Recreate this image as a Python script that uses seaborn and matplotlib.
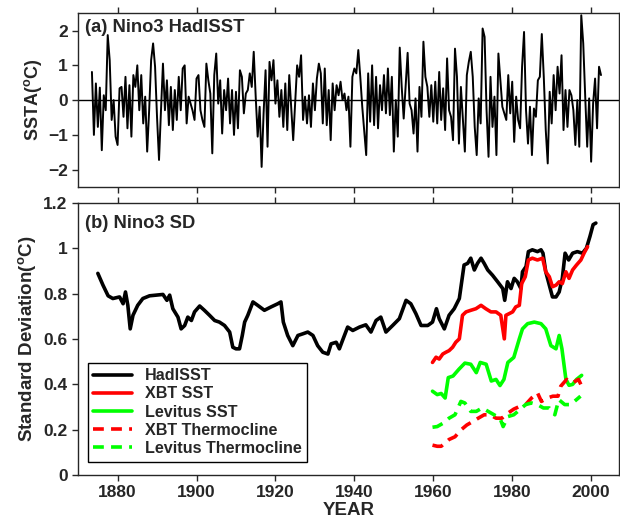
import numpy as np
import pandas as pd
import matplotlib
matplotlib.use("Agg")
import matplotlib.pyplot as plt
import seaborn as sns

# --- panel (a): Nino3 SSTA, half-yearly samples
ssta_start = 1873.5
ssta = [
    # 1873.5 - 1904.0
    0.81, -1.0, 0.48, -0.77, 0.36, -1.44, 0.14, -0.29, 1.87, 1.15, -0.57, 0.0, -1.05, -1.29,
    0.34, 0.38, -0.48, 0.67, -0.81, 0.43, -1.05, 0.72, 0.38, 1.0, -0.29, 0.72, -0.67, 0.1,
    -1.48, -0.29, 1.15, 1.63, 0.96, -0.5, -1.72, -0.29, 1.05, -0.29, 0.57, -0.72, 0.38, -0.86,
    0.29, -0.57, 0.67, -0.29, 0.91, 1.0, -0.67, 0.1, -0.1, -0.3, -0.57, 0.62, 0.72, -0.29,
    -0.57, -0.77, 1.05, 0.57, 0.19, -1.53,
    # 1904.5 - 1939.5
    0.72, 1.34, -0.1, 0.57, -0.96, 0.29, -0.29, 0.62, -0.67, 0.29, -1.0, 0.24, -0.81, 0.86,
    0.67, -0.38, 0.19, 0.29, 0.77, 0.38, 1.39, 0.1, -1.05, -0.19, -1.92, -0.38, 0.86, -1.34,
    1.1, 0.57, 1.15, -0.1, 0.57, -0.48, 0.29, -0.77, 0.48, -0.86, 0.72, -0.19, -1.15, -0.1,
    1.0, 0.67, 1.29, -0.57, 0.1, -0.67, 0.14, -0.77, 0.48, -0.29, 0.62, 1.05, 0.77, -0.67,
    0.91, -0.72, 0.29, -1.15, 0.48, -0.29, 0.43, 0.14, 0.53, 0.0, 0.19, -0.29, 0.1, -1.34, 0.67,
    # 1940.0 - 1972.5
    0.91, 0.77, 1.44, 0.67, -0.19, -0.9, -1.58, 0.77, -0.62, 1.0, -0.72, 0.67, -0.81, 0.43,
    -0.29, 0.72, -0.38, 0.91, -0.43, 0.67, -1.48, 0.0, -1.05, 1.51, 0.38, -0.53, 0.4, 1.36,
    -0.1, -0.29, -0.96, 0.05, -1.48, 0.38, -0.48, 1.68, 0.67, 0.38, -0.48, 0.43, -0.62, 0.53,
    -0.67, 0.81, -0.57, 0.34, -0.86, 1.2, -0.29, -0.48, -1.15, 1.48, 0.67, -1.25, 0.38, -0.57,
    -1.48, 0.72, 1.1, 1.39, 0.67, -0.77, -1.58, 0.05, -0.67, 2.06,
    # 1973.0 - 2002.5
    1.82, -0.29, -1.63, 0.67, -0.77, 0.1, -1.58, 1.34, 0.57, -0.19, -0.38, -0.57, 0.72, -0.38,
    0.53, -1.2, 0.1, -0.57, -0.81, 0.96, 1.96, -0.29, -1.25, -0.19, -1.58, -0.24, -0.48, 0.57,
    0.67, 1.9, 0.67, -0.86, -1.82, 0.24, -0.67, 0.72, -0.29, 0.96, 0.19, 1.29, -0.86, 0.29,
    -0.77, 0.29, 0.14, -0.29, -1.29, 0.0, -1.34, 2.44, 1.63, 0.1, -1.34, 0.05, -1.77, -0.1,
    0.62, -0.81, 0.96, 0.72,
]
ssta_years = ssta_start + 0.5 * np.arange(len(ssta))

# --- panel (b): running standard deviations
had_years = [1875.0, 1876.3, 1877.6, 1878.8, 1880.5, 1881.4, 1882.0, 1882.6, 1883.2, 1883.9,
             1885.1, 1886.4, 1888.1, 1889.8, 1891.5, 1892.5, 1893.2, 1894.0, 1895.3, 1896.1,
             1897.0, 1897.8, 1898.7, 1899.5, 1900.8, 1902.0, 1903.3, 1904.6, 1905.8, 1907.1,
             1908.4, 1909.2, 1910.0, 1910.9, 1911.6, 1912.2, 1913.0, 1914.3, 1915.5, 1917.2,
             1918.9, 1920.6, 1921.4, 1922.0, 1923.1, 1924.4, 1925.7, 1926.9, 1928.2, 1929.5,
             1930.7, 1932.0, 1933.3, 1934.1, 1935.4, 1936.2, 1937.0, 1938.3, 1939.6, 1941.3,
             1942.9, 1944.2, 1945.5, 1946.7, 1948.0, 1949.7, 1951.4, 1953.1, 1954.3, 1955.6,
             1956.9, 1958.6, 1959.8, 1960.8, 1961.5, 1962.8, 1964.0, 1965.3, 1966.6, 1967.8,
             1968.7, 1969.5, 1970.4, 1971.2, 1972.1, 1972.9, 1973.8, 1975.0, 1976.3, 1977.6,
             1978.1, 1978.8, 1979.7, 1980.5, 1981.3, 1982.2, 1982.6, 1983.5, 1984.1, 1985.1,
             1986.4, 1987.3, 1987.8, 1988.5, 1989.4, 1990.2, 1991.1, 1991.9, 1992.7, 1993.4,
             1994.3, 1995.3, 1996.5, 1997.8, 1998.8, 1999.7, 2000.5, 2001.2]
had_sd = [0.889, 0.837, 0.79, 0.778, 0.785, 0.755, 0.807, 0.748, 0.644, 0.704,
          0.748, 0.778, 0.79, 0.793, 0.796, 0.77, 0.793, 0.733, 0.696, 0.644,
          0.659, 0.696, 0.681, 0.719, 0.745, 0.726, 0.704, 0.681, 0.674, 0.659,
          0.63, 0.563, 0.556, 0.556, 0.615, 0.674, 0.704, 0.763, 0.748, 0.726,
          0.741, 0.755, 0.763, 0.674, 0.615, 0.57, 0.615, 0.622, 0.63, 0.615,
          0.57, 0.541, 0.533, 0.578, 0.585, 0.556, 0.593, 0.652, 0.637, 0.652,
          0.662, 0.63, 0.681, 0.696, 0.63, 0.659, 0.689, 0.77, 0.755, 0.711,
          0.659, 0.659, 0.674, 0.733, 0.689, 0.644, 0.704, 0.733, 0.778, 0.926,
          0.933, 0.956, 0.904, 0.933, 0.956, 0.933, 0.904, 0.881, 0.852, 0.822,
          0.77, 0.852, 0.822, 0.867, 0.852, 0.822, 0.896, 0.919, 0.985, 0.993,
          0.985, 0.993, 0.978, 0.896, 0.837, 0.785, 0.785, 0.807, 0.867, 0.978,
          0.948, 0.978, 0.985, 0.978, 1.0, 1.052, 1.104, 1.111]

xbt_sst_years = [1959.8, 1960.7, 1961.5, 1962.4, 1963.2, 1964.0, 1964.9, 1965.7, 1966.6, 1967.4,
                 1968.3, 1969.5, 1970.8, 1972.1, 1973.3, 1974.6, 1975.9, 1977.1, 1978.0, 1978.4,
                 1979.2, 1980.1, 1980.9, 1981.8, 1982.4, 1983.3, 1984.1, 1985.1, 1986.4, 1987.7,
                 1988.5, 1989.4, 1990.2, 1991.1, 1991.9, 1992.7, 1993.6, 1994.4, 1995.3, 1996.3,
                 1997.4, 1998.2, 1999.1]
xbt_sst = [0.496, 0.519, 0.511, 0.533, 0.541, 0.548, 0.563, 0.585, 0.6, 0.704,
           0.719, 0.726, 0.733, 0.748, 0.733, 0.719, 0.719, 0.704, 0.6, 0.704,
           0.711, 0.719, 0.741, 0.748, 0.844, 0.874, 0.948, 0.956, 0.948, 0.956,
           0.896, 0.874, 0.83, 0.837, 0.852, 0.844, 0.896, 0.867, 0.904, 0.926,
           0.948, 0.978, 1.007]

lev_sst_years = [1959.8, 1961.0, 1962.0, 1963.0, 1963.8, 1965.0, 1966.5, 1968.0, 1969.5, 1970.9,
                 1971.9, 1973.4, 1974.7, 1975.9, 1976.9, 1977.9, 1978.9, 1980.4, 1981.8, 1982.6,
                 1983.9, 1985.6, 1987.3, 1988.5, 1989.8, 1991.1, 1991.9, 1992.6, 1993.6, 1994.4,
                 1995.3, 1996.3, 1997.6]
lev_sst = [0.369, 0.354, 0.359, 0.339, 0.429, 0.436, 0.466, 0.493, 0.488, 0.451,
           0.496, 0.488, 0.414, 0.421, 0.394, 0.421, 0.496, 0.518, 0.6, 0.644,
           0.667, 0.674, 0.667, 0.644, 0.57, 0.556, 0.615, 0.556, 0.422, 0.395,
           0.399, 0.421, 0.439]

xbt_tc_years = [1959.8, 1961.0, 1962.0, 1964.0, 1965.5, 1967.0, 1968.5, 1970.0, 1971.4, 1972.9,
                1974.4, 1975.9, 1977.4, 1978.9, 1980.4, 1981.9, 1983.4, 1984.9, 1986.4, 1987.4,
                1988.9, 1990.3, 1991.6, 1992.3, 1993.8, 1995.3, 1996.8, 1997.6]
xbt_tc = [0.131, 0.126, 0.126, 0.156, 0.168, 0.198, 0.22, 0.235, 0.25, 0.265,
          0.265, 0.25, 0.25, 0.272, 0.29, 0.302, 0.31, 0.339, 0.362, 0.324,
          0.339, 0.347, 0.347, 0.391, 0.421, 0.406, 0.421, 0.391]

lev_tc_years = [1959.8, 1961.0, 1962.5, 1964.0, 1965.5, 1967.0, 1968.0, 1969.5, 1970.9, 1972.4,
                1973.9, 1975.4, 1976.9, 1977.7, 1978.9, 1980.4, 1981.9, 1983.4, 1984.9, 1986.4,
                1987.9, 1989.4, 1990.8, 1991.8, 1993.3, 1994.8, 1996.3, 1997.3]
lev_tc = [0.21, 0.213, 0.228, 0.25, 0.265, 0.324, 0.317, 0.28, 0.28, 0.295,
          0.28, 0.265, 0.25, 0.213, 0.257, 0.265, 0.287, 0.31, 0.317, 0.31,
          0.295, 0.295, 0.265, 0.332, 0.31, 0.31, 0.332, 0.347]

year_ticks = [1880, 1900, 1920, 1940, 1960, 1980, 2000]

sns.set_style("ticks")
plt.rcParams["font.family"] = ["Liberation Sans", "DejaVu Sans"]
plt.rcParams["font.weight"] = "bold"
plt.rcParams["mathtext.fontset"] = "custom"
plt.rcParams["mathtext.rm"] = "Liberation Sans:bold"
plt.rcParams["mathtext.default"] = "rm"

fig = plt.figure(figsize=(6.2, 5.27), dpi=100)
ax1 = fig.add_axes([0.126, 0.645, 0.872, 0.330])
ax2 = fig.add_axes([0.126, 0.099, 0.872, 0.516])

# panel (a)
ax1.axhline(0, color="black", lw=1.0)
sns.lineplot(x=ssta_years, y=ssta, ax=ax1, color="black", lw=1.4)
ax1.set_xlim(1870, 2007)
ax1.set_ylim(-2.5, 2.5)
ax1.set_yticks([-2, -1, 0, 1, 2])
ax1.set_yticklabels(["\u22122", "\u22121", "0", "1", "2"])
ax1.set_xticks(year_ticks)
ax1.tick_params(axis="x", top=True, labelbottom=False)
ax1.set_ylabel("SSTA($^{o}$C)", fontsize=13, fontweight="bold", labelpad=3)
ax1.text(0.012, 0.965, "(a) Nino3 HadISST", transform=ax1.transAxes, ha="left", va="top",
         fontsize=13.2, fontweight="bold")

# panel (b)
series = [
    (had_years, had_sd, "black", "-", "HadISST"),
    (xbt_sst_years, xbt_sst, "#ff0000", "-", "XBT SST"),
    (lev_sst_years, lev_sst, "#00ff00", "-", "Levitus SST"),
    (xbt_tc_years, xbt_tc, "#ff0000", (0, (3, 2)), "XBT Thermocline"),
    (lev_tc_years, lev_tc, "#00ff00", (0, (3, 2)), "Levitus Thermocline"),
]
for yrs, vals, col, ls, lab in series:
    sns.lineplot(x=yrs, y=vals, ax=ax2, color=col, lw=2.6, linestyle=ls, label=lab)

ax2.set_xlim(1870, 2007)
ax2.set_ylim(0, 1.2)
ax2.set_yticks([0, 0.2, 0.4, 0.6, 0.8, 1.0, 1.2])
ax2.set_yticklabels(["0", "0.2", "0.4", "0.6", "0.8", "1", "1.2"])
ax2.set_xticks(year_ticks)
ax2.tick_params(axis="x", top=True)
ax2.set_xlabel("YEAR", fontsize=13.5, fontweight="bold", labelpad=1)
ax2.set_ylabel("Standard Deviation($^{o}$C)", fontsize=13.5, fontweight="bold", labelpad=4)
ax2.text(0.012, 0.955, "(b) Nino3 SD", transform=ax2.transAxes, ha="left", va="top",
         fontsize=13.2, fontweight="bold")
leg = ax2.legend(loc="lower left", bbox_to_anchor=(0.018, 0.048), borderaxespad=0,
                 fontsize=11.6, handlelength=2.4, handletextpad=0.8, labelspacing=0.2,
                 borderpad=0.35, fancybox=False, framealpha=1, edgecolor="black")
leg.get_frame().set_linewidth(1.0)

for ax in (ax1, ax2):
    ax.tick_params(direction="out", length=4, width=1, labelsize=12.5)
    for lab in ax.get_xticklabels() + ax.get_yticklabels():
        lab.set_fontweight("bold")
    for sp in ax.spines.values():
        sp.set_linewidth(1.0)

fig.savefig("out.png", dpi=100)
